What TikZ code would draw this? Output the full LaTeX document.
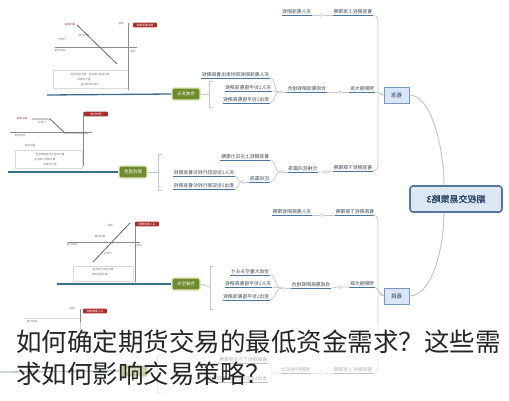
\documentclass[tikz,border=0pt]{standalone}
\usepackage{fontspec}
\usepackage{graphicx}
\newfontfamily\cjk{Noto Sans CJK SC}
\newfontfamily\cjkb[FakeBold=1.5]{Noto Sans CJK SC}
\newcommand\mir[1]{\reflectbox{#1}}
\definecolor{txtc}{HTML}{3E4A56}
\definecolor{ulc}{HTML}{4F7596}
\definecolor{cc}{HTML}{C4C8CC}
\definecolor{gfill}{HTML}{6E8B2E}
\definecolor{gborder}{HTML}{DDE7B5}
\definecolor{bfill}{HTML}{D9E6F5}
\definecolor{bborder}{HTML}{7896BC}
\definecolor{rfill}{HTML}{DCE7F4}
\definecolor{rborder}{HTML}{56779A}
\definecolor{navy}{HTML}{2C4466}
\definecolor{mlc}{HTML}{3C6D8C}
\definecolor{redc}{HTML}{A8302C}
\tikzset{
  ul/.style={draw=ulc, line width=0.9pt},
  item/.style={font=\cjk\fontsize{4.8}{5}\selectfont, text=txtc, inner xsep=0.6pt, inner ysep=1.2pt, anchor=south east,
    append after command={(\tikzlastnode.south west) edge[ul] (\tikzlastnode.south east)}},
  conn/.style={draw=cc, line width=0.7pt},
  dotc/.style={circle, draw=cc, fill=white, line width=0.5pt, inner sep=0pt, minimum size=3pt},
  greennode/.style={rectangle, rounded corners=1.5pt, fill=gfill, draw=gborder, line width=1.3pt, text=white,
    font=\cjk\fontsize{4.5}{5}\selectfont, inner sep=1pt, minimum width=28pt, minimum height=12pt},
  subnode/.style={rectangle, fill=bfill, draw=bborder, line width=0.7pt, minimum width=25pt, minimum height=16pt,
    font=\cjk\fontsize{5.5}{6}\selectfont, text=navy, inner sep=1pt},
  rootnode/.style={rectangle, rounded corners=3pt, fill=rfill, draw=rborder, line width=1.6pt, minimum width=92pt,
    minimum height=26pt, font=\cjkb\fontsize{9}{10}\selectfont, text=navy},
  rootconn/.style={draw=cc, line width=1pt},
  mainline/.style={draw=mlc, line width=1.3pt},
  bracestyle/.style={draw=cc, line width=0.8pt},
  axisl/.style={draw=black!45, line width=0.5pt},
  payl/.style={draw=black!60, line width=0.8pt},
  tbox/.style={draw=black!15, line width=0.4pt},
  tinyt/.style={font=\cjk\fontsize{2.6}{3}\selectfont, text=black!55, inner sep=0pt},
  redlab/.style={fill=redc, text=white, font=\cjk\fontsize{2.8}{3}\selectfont, inner sep=0.6pt, minimum width=24pt,
    minimum height=4.6pt, rounded corners=1pt},
  bigt/.style={font=\cjk\fontsize{25.5}{30}\selectfont, text=black!85, inner sep=0pt, anchor=base west}
}
\begin{document}
\begin{tikzpicture}[x=1pt,y=-1pt]
\useasboundingbox (0,0) rectangle (509,400);
\fill[white] (0,0) rectangle (509,400);

% ---------- charts ----------
% chart 1
\draw[tbox] (53,70) rectangle (128,88);
\draw[axisl] (128,23) -- (128,90);
\draw[axisl] (55,47) -- (137,47);
\draw[payl] (77,25) -- (117,64);
\node[redlab] (c1r) at (145,25) {\mir{卖出看涨期权}};
\node[tinyt] (c1a) at (121,24) {\mir{收益}};
\node[tinyt] (c1b) at (133,52) {\mir{价格}};
\node[tinyt, text=redc] (c1c) at (70,25) {\mir{最大收益}};
\node[tinyt] (c1d) at (84,36) {\mir{盈亏平衡}};
\node[tinyt] (c1e) at (62,40) {\mir{行权价}};
\node[tinyt] (c1f) at (60,51) {\mir{标的价格}};
\node[tinyt] (c1g) at (90,75) {\mir{最大收益为权利金，最大损失无限}};
\node[tinyt] (c1h) at (84,80) {\mir{盈亏平衡点}};
\node[tinyt] (c1i) at (90,85) {\mir{行权价加权利金}};
% chart 2
\draw[tbox] (15,150) rectangle (82,168);
\draw[axisl] (83,112) -- (83,166);
\draw[axisl] (10,132) -- (92,132);
\draw[payl] (32,119) -- (50,119) -- (65,133) -- (88,133);
\node[redlab] (c2r) at (96,114) {\mir{熊市价差}};
\node[tinyt, text=redc] (c2a) at (22,119) {\mir{最大收益}};
\node[tinyt] (c2b) at (42,123) {\mir{行权价}};
\node[tinyt] (c2c) at (20,136) {\mir{标的价格}};
\node[tinyt] (c2d) at (30,146) {\mir{最大损失}};
\node[tinyt] (c2e) at (50,155) {\mir{最大收益为价差减权利金}};
\node[tinyt] (c2f) at (45,160) {\mir{最大损失为权利金}};
\node[tinyt] (c2g) at (50,165) {\mir{盈亏平衡点}};
% chart 3
\draw[tbox] (73,266) rectangle (133,281);
\draw[axisl] (135,222) -- (135,282);
\draw[axisl] (68,242) -- (140,242);
\draw[payl] (93,262) -- (130,223);
\node[redlab] (c3r) at (147,224) {\mir{买入看涨期权}};
\node[tinyt] (c3a) at (110,226) {\mir{收益}};
\node[tinyt] (c3b) at (100,237) {\mir{盈亏平衡}};
\node[tinyt] (c3c) at (72,245) {\mir{标的价格}};
\node[tinyt] (c3d) at (108,254) {\mir{行权价}};
\node[tinyt] (c3e) at (139,246) {\mir{价格}};
\node[tinyt] (c3f) at (103,270) {\mir{最大损失为权利金}};
\node[tinyt] (c3g) at (100,275) {\mir{最大收益无限}};
% chart 4 (partial)
\draw[axisl] (80,309) -- (80,330);
\draw[tbox] (25,318) -- (80,318);
\node[redlab] (c4r) at (95,311) {\mir{买入看跌期权}};
\node[tinyt] (c4a) at (72,309) {\mir{收益}};
\node[tinyt] (c4b) at (32,322) {\mir{标的价格}};

% ---------- root and main branches ----------
\node[rootnode] (root) at (456,199) {\mir{期权交易策略3}};
\node[subnode] (zh) at (396.5,95) {\mir{看涨}};
\node[subnode] (zd) at (396.5,296) {\mir{看跌}};
\draw[rootconn] (zh.east) .. controls (432,95) and (444,150) .. ([xshift=-12pt]root.north);
\draw[rootconn] (zd.east) .. controls (432,296) and (444,248) .. ([xshift=-12pt]root.south);

% ---------- top group ----------
\node[item] (B) at (373,15) {\mir{看涨期权上涨策略}};
\node[item] (A) at (312,15) {\mir{买入看涨期权}};
\node[dotc] (dA) at (321,15) {};
\draw[conn] (A.south east) -- (dA) -- (B.south west);

\node[item] (C) at (375,92) {\mir{预期强大涨}};
\node[dotc] (dC) at (340,92) {};
\node[item] (D) at (327,92) {\mir{合成看涨期权组合}};
\draw[conn] (D.south east) -- (dC) -- (C.south west);
\draw[conn] (C.south east) -- (zh.west);
\node[dotc] (dD) at (281,92) {};
\node[item] (E1) at (270,78) {\mir{买入看涨期权同时卖出看跌期权}};
\node[item] (E2) at (272,91) {\mir{买入1份平值看涨期权}};
\node[item] (E3) at (270,103) {\mir{卖出1份平值看跌期权}};
\draw[conn] (D.south west) -- (dD);
\draw[conn] (dD) to[out=180,in=0] (E1.south east);
\draw[conn] (dD) to[out=180,in=0] (E2.south east);
\draw[conn] (dD) to[out=180,in=0] (E3.south east);
\node[greennode] (F) at (186,94) {\mir{合成多头}};
\draw[bracestyle] (213,81) -- (209,81) -- (209,107) -- (213,107);
\draw[bracestyle] (F.east) -- (209,94);
\draw[mainline] (47,95) -- (F.west);

\node[item] (G) at (373,171) {\mir{看涨期权下跌策略}};
\node[dotc] (dG) at (325,172) {};
\node[item] (H) at (318,172) {\mir{价格区间震荡}};
\draw[conn] (H.south east) -- (dG) -- (G.south west);
\node[dotc] (dH) at (282,172) {};
\node[item] (I) at (270,160) {\mir{看涨期权上方压力策略}};
\node[item] (J) at (270,182) {\mir{区间震荡}};
\draw[conn] (H.south west) -- (dH);
\draw[conn] (dH) to[out=180,in=0] (I.south east);
\draw[conn] (dH) to[out=180,in=0] (J.south east);
\node[dotc] (dJ) at (243,182) {};
\node[item] (K1) at (235,176) {\mir{买入1份较低行权价看涨期权}};
\node[item] (K2) at (235,189) {\mir{卖出1份较高行权价看涨期权}};
\draw[conn] (J.south west) -- (dJ);
\draw[conn] (dJ) to[out=180,in=0] (K1.south east);
\draw[conn] (dJ) to[out=180,in=0] (K2.south east);
\node[greennode] (L) at (133,172) {\mir{跨式组合}};
\draw[bracestyle] (162,154) -- (158,154) -- (158,190) -- (162,190);
\draw[bracestyle] (L.east) -- (158,172);
\draw[mainline] (8,172) -- (L.west);

\draw[conn, rounded corners=5pt] (B.south east) -| (378,95) -- (zh.west);
\draw[conn, rounded corners=5pt] (G.south east) -| (378,95);

% ---------- bottom group ----------
\node[item] (M) at (375,215) {\mir{看跌期权下跌策略}};
\node[dotc] (dM) at (322,215) {};
\node[item] (N) at (312,215) {\mir{买入看跌期权策略}};
\draw[conn] (N.south east) -- (dM) -- (M.south west);

\node[item] (O) at (375,287) {\mir{预期强大跌}};
\node[dotc] (dO) at (340,287) {};
\node[item] (P) at (331,288) {\mir{合成看跌期权组合}};
\draw[conn] (P.south east) -- (dO) -- (O.south west);
\draw[conn] (O.south east) -- (zd.west);
\node[dotc] (dP) at (283,288) {};
\node[item] (Q1) at (270,275) {\mir{合成大量空头头寸}};
\node[item] (Q2) at (272,287) {\mir{买入1份平值看跌期权}};
\node[item] (Q3) at (270,300) {\mir{卖出1份平值看涨期权}};
\draw[conn] (P.south west) -- (dP);
\draw[conn] (dP) to[out=180,in=0] (Q1.south east);
\draw[conn] (dP) to[out=180,in=0] (Q2.south east);
\draw[conn] (dP) to[out=180,in=0] (Q3.south east);
\node[greennode] (R) at (186,284) {\mir{合成空头}};
\draw[bracestyle] (214,266) -- (210,266) -- (210,309) -- (214,309);
\draw[bracestyle] (R.east) -- (210,287);
\draw[mainline] (57,284) -- (R.west);

\node[item] (S) at (373,373) {\mir{看跌期权上涨策略}};
\node[dotc] (dS) at (322,373) {};
\node[item] (T) at (311,373) {\mir{预期价格波动}};
\draw[conn] (T.south east) -- (dS) -- (S.south west);
\node[dotc] (dT) at (276,373) {};
\node[item] (U) at (268,363) {\mir{看跌期权下方支撑策略}};
\node[item] (U2) at (268,382) {\mir{卖出1份较低行权价看跌期权}};
\draw[conn] (T.south west) -- (dT);
\draw[conn] (dT) to[out=180,in=0] (U.south east);
\draw[conn] (dT) to[out=180,in=0] (U2.south east);
\node[greennode] (V) at (134,371) {\mir{熊市价差}};
\draw[bracestyle] (161,355) -- (157,355) -- (157,392) -- (161,392);
\draw[bracestyle] (V.east) -- (157,371);
\draw[mainline] (0,372) -- (V.west);

\draw[conn, rounded corners=5pt] (M.south east) -| (378,296) -- (zd.west);
\draw[conn, rounded corners=5pt] (S.south east) -| (378,296);

% ---------- overlay title ----------
\fill[white, opacity=0.6] (0,322) rectangle (509,400);
\node[bigt] (t1) at (16,351) {如何确定期货交易的最低资金需求？这些需};
\node[bigt] (t2) at (16,383) {求如何影响交易策略？};
\end{tikzpicture}
\end{document}
